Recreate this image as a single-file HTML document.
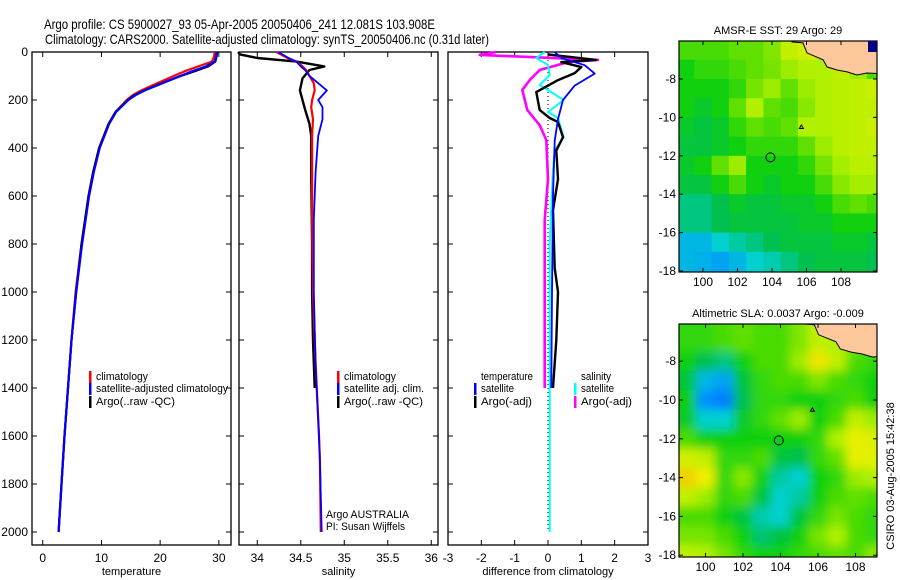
<!DOCTYPE html>
<html><head><meta charset="utf-8">
<style>
html,body{margin:0;padding:0;background:#fff;}
svg{display:block;font-family:"Liberation Sans",sans-serif;}
</style></head>
<body>
<svg id="fig" width="900" height="580" viewBox="0 0 900 580" xmlns="http://www.w3.org/2000/svg">
<defs>
<clipPath id="cm1"><rect x="679" y="41" width="198" height="231"/></clipPath>
<clipPath id="cm2"><rect x="679" y="324" width="198" height="233"/></clipPath>
<filter id="blur" x="-10%" y="-10%" width="120%" height="120%"><feGaussianBlur stdDeviation="5"/></filter>
</defs>
<text x="44" y="29" font-size="14" textLength="391" lengthAdjust="spacingAndGlyphs">Argo profile: CS 5900027_93 05-Apr-2005 20050406_241 12.081S 103.908E</text>
<text x="45" y="44" font-size="14" textLength="444" lengthAdjust="spacingAndGlyphs">Climatology: CARS2000. Satellite-adjusted climatology: synTS_20050406.nc (0.31d later)</text>
<g id="root"></g>
</svg>
<script>
// ---------- DATA ----------
const depthTicks=[0,200,400,600,800,1000,1200,1400,1600,1800,2000];
const tempTicks=[0,10,20,30];
const salTicks=[34,34.5,35,35.5,36];
const diffTicks=[-3,-2,-1,0,1,2,3];
// temperature profiles
const tDepth=[0,20,40,60,80,100,130,160,180,200,250,300,400,500,600,800,1000,1200,1400,1600,1800,2000];
const tClim=[29.3,29.2,28.8,26.5,24.2,22.3,19.5,16.8,15.3,14.3,12.4,11.2,9.6,8.6,7.8,6.6,5.6,4.9,4.3,3.7,3.2,2.7];
const tSat=[29.6,29.5,29.3,27.8,25.5,23.4,20.4,17.4,15.8,14.6,12.5,11.3,9.7,8.7,7.9,6.7,5.7,4.9,4.3,3.7,3.2,2.7];
const tArgo=[29.7,29.6,29.4,28.2,25.9,23.5,20.3,17.3,15.6,14.5,12.4,11.2,9.6,8.6,7.8,6.6,5.7,4.9,4.3,3.7,3.2,2.7];
// salinity profiles
const sDepth=[0,25,40,60,75,100,130,160,200,230,280,350,500,700,1000,1300,1600,1700,2000];
const sClim=[34.22,34.35,34.45,34.52,34.56,34.6,34.65,34.66,34.63,34.62,34.64,34.63,34.63,34.63,34.64,34.67,34.71,34.72,34.73];
const sSat=[34.24,34.36,34.45,34.5,34.55,34.6,34.7,34.8,34.7,34.75,34.75,34.7,34.67,34.65,34.65,34.67,34.71,34.72,34.74];
const sArgoDepth=[0,10,25,40,60,75,110,160,240,300,350,500,800,1000,1200,1400];
const sArgo=[33.78,33.8,34.0,34.45,34.77,34.6,34.52,34.49,34.55,34.6,34.62,34.62,34.63,34.63,34.64,34.66];
// differences
const dTSatDepth=[0,25,55,90,140,200,280,370,600,1000,1400];
const dTSat=[0.2,0.4,1.1,1.4,0.8,0.45,0.3,0.2,0.15,0.12,0.1];
const dTArgoDepth=[10,33,42,63,88,117,167,242,275,292,355,410,530,660,900,1000,1200,1400];
const dTArgo=[0,1.45,0.4,1.0,0.8,0.3,-0.35,-0.25,0.05,0.3,0.45,0.25,0.3,0.15,0.2,0.3,0.25,0.15];
const dSSatDepth=[0,25,54,96,137,200,250,275,355,410,490,800,1400,2000];
const dSSat=[-0.1,-0.35,0,0.05,-0.25,0.47,0,0.3,0.47,0.2,0.15,0.05,0.05,0.05];
const dSArgoDepth=[0,12,33,42,75,117,158,242,305,367,530,700,1400];
const dSArgo=[-1.55,-2.05,1.5,0.6,-0.25,-0.55,-0.77,-0.62,-0.25,-0.05,0,-0.1,-0.1];
// maps
const lonTicks=[100,102,104,106,108];
const latTicks=[-8,-10,-12,-14,-16,-18];
const sstLons=[99,100,101,102,103,104,105,106,107,108,109,110];
const sstLats=[-6.5,-7.5,-8.5,-9.5,-10.5,-11.5,-12.5,-13.5,-14.5,-15.5,-16.5,-17.5];
const sstGrid=[
[0.6,0.6,0.6,0.62,0.62,0.65,0.72,0.74,0.72,0.68,0.68,0.6],
[0.55,0.58,0.58,0.6,0.62,0.64,0.68,0.7,0.7,0.72,0.68,0.6],
[0.55,0.55,0.55,0.58,0.64,0.68,0.62,0.68,0.7,0.71,0.72,0.73],
[0.55,0.52,0.55,0.62,0.7,0.62,0.6,0.66,0.7,0.71,0.72,0.72],
[0.52,0.5,0.52,0.58,0.62,0.6,0.62,0.7,0.7,0.71,0.72,0.73],
[0.5,0.5,0.52,0.55,0.58,0.58,0.58,0.62,0.68,0.71,0.72,0.72],
[0.52,0.55,0.62,0.68,0.55,0.55,0.55,0.58,0.64,0.69,0.71,0.71],
[0.5,0.5,0.55,0.6,0.55,0.52,0.55,0.55,0.6,0.66,0.69,0.69],
[0.45,0.45,0.48,0.52,0.5,0.5,0.52,0.52,0.55,0.6,0.62,0.6],
[0.45,0.45,0.48,0.5,0.5,0.5,0.5,0.52,0.52,0.55,0.55,0.55],
[0.36,0.36,0.4,0.43,0.45,0.48,0.5,0.5,0.5,0.52,0.52,0.5],
[0.36,0.35,0.33,0.36,0.4,0.42,0.45,0.48,0.5,0.5,0.5,0.48]];
const slaLons=[98,99,100,101,102,103,104,105,106,107,108,109,110];
const slaLats=[-6,-7,-8,-9,-10,-11,-12,-13,-14,-15,-16,-17,-18,-19];
const slaGrid=[
[0.58,0.58,0.58,0.6,0.62,0.6,0.6,0.65,0.72,0.7,0.65,0.6,0.6],
[0.58,0.58,0.58,0.6,0.62,0.6,0.6,0.65,0.72,0.7,0.65,0.6,0.6],
[0.55,0.55,0.48,0.45,0.55,0.6,0.6,0.68,0.8,0.72,0.6,0.58,0.58],
[0.5,0.5,0.36,0.33,0.5,0.58,0.6,0.6,0.65,0.6,0.58,0.55,0.55],
[0.55,0.55,0.3,0.28,0.48,0.58,0.58,0.55,0.55,0.58,0.6,0.55,0.55],
[0.52,0.52,0.4,0.4,0.52,0.58,0.62,0.68,0.55,0.6,0.72,0.68,0.68],
[0.6,0.6,0.55,0.55,0.55,0.55,0.55,0.55,0.58,0.7,0.77,0.75,0.75],
[0.74,0.74,0.72,0.58,0.58,0.6,0.5,0.48,0.58,0.62,0.77,0.76,0.76],
[0.84,0.84,0.78,0.58,0.66,0.55,0.43,0.4,0.55,0.58,0.68,0.7,0.7],
[0.72,0.72,0.68,0.58,0.6,0.5,0.4,0.43,0.55,0.6,0.62,0.6,0.6],
[0.6,0.6,0.6,0.55,0.5,0.42,0.4,0.5,0.58,0.64,0.6,0.58,0.58],
[0.64,0.64,0.64,0.6,0.55,0.46,0.5,0.55,0.64,0.7,0.6,0.58,0.58],
[0.72,0.72,0.7,0.64,0.58,0.55,0.55,0.58,0.6,0.62,0.6,0.66,0.66],
[0.72,0.72,0.7,0.64,0.58,0.55,0.55,0.58,0.6,0.62,0.6,0.66,0.66]];
const coastLon=[105.1,105.16,105.8,106.03,106.96,107.19,107.77,108.35,108.93,109.5,110.3,110.3];
const coastLat=[-5.5,-6.07,-6.12,-6.64,-7.0,-7.37,-7.53,-7.63,-7.79,-7.69,-7.72,-5.5];
const argoLon=103.908, argoLat=-12.081;
const triLon=105.7, triLat=-10.5;

// ---------- HELPERS ----------
const NS="http://www.w3.org/2000/svg";
const root=document.getElementById('root');
function mk(tag,attrs,parent){const e=document.createElementNS(NS,tag);for(const k in attrs)e.setAttribute(k,attrs[k]);(parent||root).appendChild(e);return e;}
const yD=d=>52+d*0.24;
const panels=[
 {x0:32,x1:231,v0:-1.83,k:5.87,name:'temperature'},
 {x0:239,x1:438,v0:33.79,k:87,name:'salinity'},
 {x0:448,x1:648,v0:-3,k:33.33,name:'difference'}];
const px=(p,v)=>p.x0+(v-p.v0)*p.k;

function line(p,vals,deps,color,w,name){
  const pts=vals.map((v,i)=>px(p,v).toFixed(1)+','+yD(deps[i]).toFixed(1)).join(' ');
  const e=mk('polyline',{points:pts,fill:'none',stroke:color,'stroke-width':w,'stroke-linejoin':'round'});
  
  
}
function txt(x,y,s,opts,name){const e=mk('text',Object.assign({x:x,y:y,'font-size':11},opts||{}));e.textContent=s;
  
  return e;}

// ---------- PROFILE PANELS ----------
const ticksX=[tempTicks,salTicks,diffTicks];
const xTitles=['temperature','salinity','difference from climatology'];
panels.forEach((p,i)=>{
  const r=mk('rect',{x:p.x0,y:52,width:p.x1-p.x0,height:493,fill:'none',stroke:'#000','stroke-width':1.3});
  
  
  ticksX[i].forEach(t=>{const x=px(p,t);
    mk('line',{x1:x,x2:x,y1:52,y2:57,stroke:'#000'});
    mk('line',{x1:x,x2:x,y1:545,y2:540,stroke:'#000'});
    txt(x,562,String(t),{'text-anchor':'middle','font-size':12},'x-tick-label');});
  depthTicks.forEach(d=>{const y=yD(d);
    mk('line',{x1:p.x0,x2:p.x0+5,y1:y,y2:y,stroke:'#000'});
    mk('line',{x1:p.x1,x2:p.x1-5,y1:y,y2:y,stroke:'#000'});});
  txt((p.x0+p.x1)/2,575,xTitles[i],{'text-anchor':'middle','font-size':11},'x-axis-title');
});
depthTicks.forEach(d=>txt(28,yD(d)+4,String(d),{'text-anchor':'end','font-size':12},'y-tick-label'));

// panel 1
line(panels[0],tClim,tDepth,'#f00',2.2,'temp-climatology-line');
line(panels[0],tArgo,tDepth,'#000',2.2,'temp-argo-line');
line(panels[0],tSat,tDepth,'#00f',2.2,'temp-satellite-line');
// panel 2
line(panels[1],sArgo,sArgoDepth,'#000',2.4,'sal-argo-line');
line(panels[1],sClim,sDepth,'#f00',2.2,'sal-climatology-line');
line(panels[1],sSat,sDepth,'#00f',1.8,'sal-satellite-line');
// panel 3
{const p=panels[2];const z=mk('line',{x1:px(p,0),x2:px(p,0),y1:yD(0),y2:yD(2000),stroke:'#000','stroke-dasharray':'1,3'});
 }
line(panels[2],dSArgo,dSArgoDepth,'#f0f',2.6,'diff-sal-argo-line');
line(panels[2],dSSat,dSSatDepth,'#0ff',2,'diff-sal-satellite-line');
line(panels[2],dTArgo,dTArgoDepth,'#000',2.4,'diff-temp-argo-line');
line(panels[2],dTSat,dTSatDepth,'#00f',1.8,'diff-temp-satellite-line');

// legends
function leg(x,y,color,label,name,len){
  if(color){const b=mk('rect',{x:x,y:y-9,width:2.5,height:12,fill:color});
    }
  const o={'font-size':11};
  if(len){o.textLength=len;o.lengthAdjust='spacingAndGlyphs';}
  txt(x+7,y,label,o,name);
}
leg(89,380,'#f00','climatology','legend-climatology',52);
leg(89,392,'#00f','satellite-adjusted climatology','legend-satellite',132);
leg(89,405,'#000','Argo(..raw -QC)','legend-argo',79);
leg(337,380,'#f00','climatology','legend2-climatology',52);
leg(337,392,'#00f','satellite adj. clim.','legend2-satellite',80);
leg(337,405,'#000','Argo(..raw -QC)','legend2-argo',79);
leg(474,380,null,'temperature','legend3-temperature',52);
leg(474,392,'#00f','satellite','legend3-temp-satellite',33);
leg(474,405,'#000','Argo(-adj)','legend3-temp-argo',51);
leg(574,380,null,'salinity','legend3-salinity',30);
leg(574,392,'#0ff','satellite','legend3-sal-satellite',33);
leg(574,405,'#f0f','Argo(-adj)','legend3-sal-argo',51);
txt(326,518,'Argo AUSTRALIA',{'font-size':11,textLength:83,lengthAdjust:'spacingAndGlyphs'},'argo-australia-label');
txt(326,530,'PI: Susan Wijffels',{'font-size':11,textLength:79,lengthAdjust:'spacingAndGlyphs'},'pi-label');

// ---------- MAPS ----------
const stops=[[0,[0,0,128]],[0.15,[0,0,255]],[0.3,[0,144,255]],[0.4,[0,208,208]],[0.48,[0,192,80]],[0.55,[16,208,16]],[0.62,[96,224,0]],[0.7,[176,240,0]],[0.78,[240,240,0]],[0.9,[240,176,0]],[1,[240,112,0]]];
function cmap(v){for(let i=1;i<stops.length;i++){if(v<=stops[i][0]){const a=stops[i-1],b=stops[i],t=(v-a[0])/(b[0]-a[0]);
  const c=a[1].map((q,j)=>Math.round(q+(b[1][j]-q)*t));return 'rgb('+c.join(',')+')';}}return 'rgb(240,112,0)';}

function drawMap(m){
  const g=mk('g',{'clip-path':'url(#'+m.clip+')'});
  
  
  const inner=mk('g',m.blur?{filter:'url(#blur)'}:{},g);
  m.lats.forEach((la,r)=>m.lons.forEach((lo,c)=>{
    const x=m.X(lo-0.5),y=m.Y(la+0.5);
    const cell=mk('rect',{x:x.toFixed(1),y:y.toFixed(1),width:(m.X(lo+0.5)-x+0.6).toFixed(1),height:(m.Y(la-0.5)-y+0.6).toFixed(1),fill:cmap(m.grid[r][c])},inner);
    
    
  }));
  const pts=coastLon.map((lo,i)=>m.X(lo).toFixed(1)+','+m.Y(coastLat[i]).toFixed(1)).join(' ');
  const land=mk('polygon',{points:pts,fill:'#fcc89b',stroke:'#000','stroke-width':1},g);
  
  
  const c=mk('circle',{cx:m.X(argoLon),cy:m.Y(argoLat),r:4.5,fill:'none',stroke:'#000','stroke-width':1});
  
  
  const tx=m.X(triLon),ty=m.Y(triLat);
  const t=mk('polygon',{points:`${tx-2},${ty+1.5} ${tx+2},${ty+1.5} ${tx},${ty-2}`,fill:'none',stroke:'#000','stroke-width':1});
  
  
  const fr=mk('rect',{x:679,y:m.top,width:198,height:m.bot-m.top,fill:'none',stroke:'#000','stroke-width':1.2});
  
  
  lonTicks.forEach(lo=>{const x=m.X(lo);
    mk('line',{x1:x,x2:x,y1:m.bot,y2:m.bot-4,stroke:'#000'});mk('line',{x1:x,x2:x,y1:m.top,y2:m.top+4,stroke:'#000'});
    txt(x,m.bot+14,String(lo),{'text-anchor':'middle','font-size':12},'lon-tick-label');});
  latTicks.forEach(la=>{const y=m.Y(la);
    mk('line',{x1:679,x2:683,y1:y,y2:y,stroke:'#000'});mk('line',{x1:877,x2:873,y1:y,y2:y,stroke:'#000'});
    txt(676,y+4,String(la),{'text-anchor':'end','font-size':12},'lat-tick-label');});
  txt(778,m.top-7,m.title,{'text-anchor':'middle','font-size':11},m.name+'-title');
}
drawMap({name:'sst-map',clip:'cm1',top:41,bot:272,lons:sstLons,lats:sstLats,grid:sstGrid,blur:false,
  X:lo=>703+(lo-100)*17.25,Y:la=>79+(-8-la)*19.2,title:'AMSR-E SST: 29 Argo: 29'});
drawMap({name:'sla-map',clip:'cm2',top:324,bot:557,lons:slaLons,lats:slaLats,grid:slaGrid,blur:true,
  X:lo=>705.5+(lo-100)*18.75,Y:la=>400+(-10-la)*19.4,title:'Altimetric SLA: 0.0037 Argo: -0.009'});

// dark square top-right of SST map
{const s=mk('rect',{x:868,y:41,width:9,height:11,fill:'#000080'});
 }

const stamp=txt(0,0,'CSIRO 03-Aug-2005 15:42:38',{'text-anchor':'middle','font-size':11,transform:'translate(894,476) rotate(-90)'},'timestamp-label');
</script>
</body></html>
